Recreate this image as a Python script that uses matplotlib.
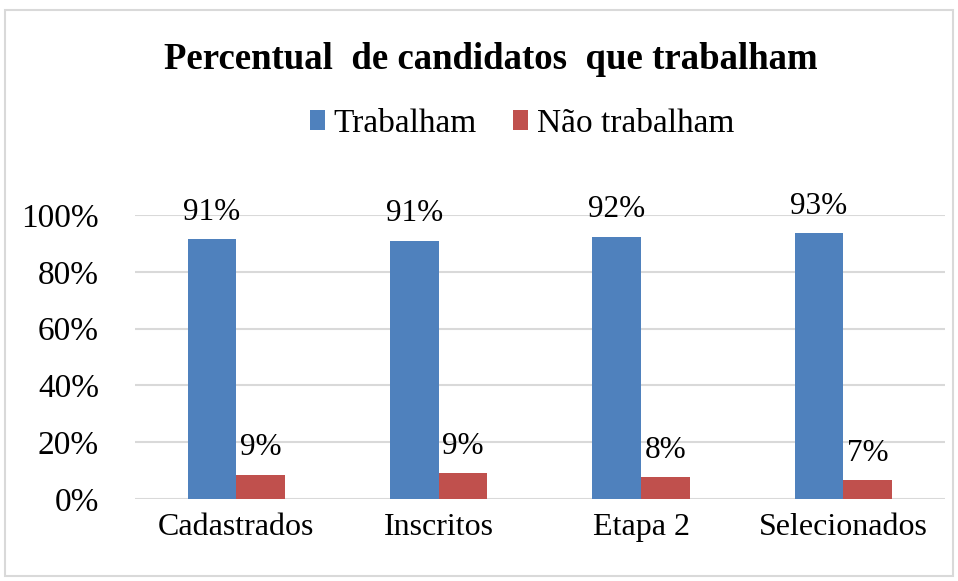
import matplotlib.pyplot as plt
import numpy as np
from matplotlib.patches import Rectangle

categorias = ['Cadastrados', 'Inscritos', 'Etapa 2', 'Selecionados']
trabalham = [91.4, 90.9, 92.4, 93.6]
nao_trabalham = [8.6, 9.1, 7.6, 6.6]
rot_trab = ['91%', '91%', '92%', '93%']
rot_nao = ['9%', '9%', '8%', '7%']
yticks = [0, 20, 40, 60, 80, 100]

plt.rcParams['font.family'] = ['Liberation Serif', 'DejaVu Serif']

fig = plt.figure(figsize=(9.58, 5.81), dpi=100)
ax = fig.add_axes([0.141, 0.141, 0.845, 0.489])

x = np.arange(len(categorias))
w = 0.24
b1 = ax.bar(x - w / 2, trabalham, w, color='#4F81BD', label='Trabalham', zorder=3)
b2 = ax.bar(x + w / 2, nao_trabalham, w, color='#C0504D', label='Não trabalham', zorder=3)

for bars, labs in ((b1, rot_trab), (b2, rot_nao)):
    for r, t in zip(bars, labs):
        ax.annotate(t, (r.get_x() + r.get_width() / 2, r.get_height()),
                    xytext=(0, 9), textcoords='offset points',
                    ha='center', va='bottom', fontsize=22.5)

ax.set_xlim(-0.5, len(categorias) - 0.5)
ax.set_ylim(0, 100)
ax.set_yticks(yticks)
ax.set_yticklabels([f'{v}%' for v in yticks], fontsize=24)
ax.set_xticks(x)
ax.set_xticklabels(categorias, fontsize=23)
ax.tick_params(length=0, pad=10)
ax.tick_params(axis='y', pad=26)
ax.grid(axis='y', color='#D9D9D9', linewidth=1.5, zorder=0)
for s in ax.spines.values():
    s.set_visible(False)

fig.text(0.512, 0.898, 'Percentual  de candidatos  que trabalham', ha='center', va='center',
         fontsize=26.5, fontweight='bold')
fig.legend(loc='center', bbox_to_anchor=(0.545, 0.787), ncol=2, frameon=False,
           fontsize=24, handlelength=0.45, handleheight=0.55, handletextpad=0.25,
           columnspacing=1.1)

fig.patches.append(Rectangle((0.005, 0.008), 0.99, 0.975, transform=fig.transFigure,
                             fill=False, edgecolor='#D9D9D9', linewidth=1.5))

fig.savefig('out.png', dpi=100)
